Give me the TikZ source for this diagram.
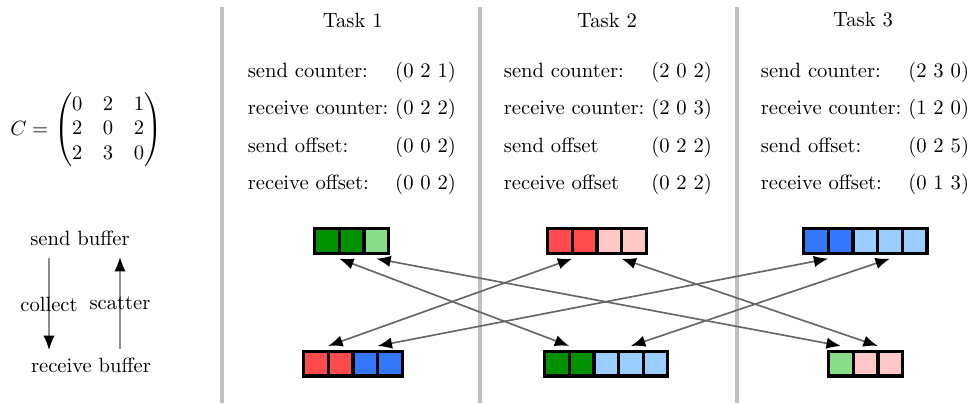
\documentclass[tikz,border=0pt]{standalone}
\usepackage{amsmath}
\usepackage{tikz}
\usetikzlibrary{arrows.meta,positioning}
\definecolor{dgreen}{RGB}{0,145,0}
\definecolor{lgreen}{RGB}{136,221,136}
\definecolor{bred}{RGB}{255,75,75}
\definecolor{pink}{RGB}{255,199,199}
\definecolor{bblue}{RGB}{51,119,255}
\definecolor{lblue}{RGB}{153,204,255}
\newcommand{\tabstretch}{\renewcommand{\arraystretch}{1.5}}

\begin{document}
\begin{tikzpicture}[thick]
   \useasboundingbox (0,0) rectangle (16.54,-6.866);
   % task columns
   \begin{scope}[draw=black!25, line width=1.6pt]
    \draw (3.782,-0.12) -- (3.782,-6.866);
    \draw (8.177,-0.12) -- (8.177,-6.866);
    \draw (12.555,-0.12) -- (12.555,-6.866);
   \end{scope}
   \node (h1) at (6.01,-0.34) {Task 1};
   \node (h2) at (10.34,-0.34) {Task 2};
   \node (h3) at (14.70,-0.34) {Task 3};
   \node (mat) at (1.47,-2.215) {$C = \begin{pmatrix}0&2&1\\2&0&2\\2&3&0\end{pmatrix}$};
   \begin{scope}[every node/.style={anchor=west,inner sep=0}]
    \node (tab1) at (4.208,-2.147) {\tabstretch\begin{tabular}{@{}l@{\ }l@{}}
      send counter: & (0 2 1)\\ receive counter: & (0 2 2)\\
      send offset: & (0 0 2)\\ receive offset: & (0 0 2)\end{tabular}};
    \node (tab2) at (8.569,-2.147) {\tabstretch\begin{tabular}{@{}l@{\ }l@{}}
      send counter: & (2 0 2)\\ receive counter: & (2 0 3)\\
      send offset & (0 2 2)\\ receive offset & (0 2 2)\end{tabular}};
    \node (tab3) at (12.947,-2.147) {\tabstretch\begin{tabular}{@{}l@{\ }l@{}}
      send counter: & (2 3 0)\\ receive counter: & (1 2 0)\\
      send offset: & (0 2 5)\\ receive offset: & (0 1 3)\end{tabular}};
   \end{scope}
   % buffers
   \begin{scope}[every node/.style={draw,ultra thick,minimum size=0.42cm,inner sep=0,outer sep=0}]
    \node[fill=dgreen] (t1s1) at (5.568,-4.106) {};
    \node[fill=dgreen,right=0pt of t1s1] (t1s2) {};
    \node[fill=lgreen,right=0pt of t1s2] (t1s3) {};
    \node[fill=bred] (t2s1) at (9.537,-4.106) {};
    \node[fill=bred,right=0pt of t2s1] (t2s2) {};
    \node[fill=pink,right=0pt of t2s2] (t2s3) {};
    \node[fill=pink,right=0pt of t2s3] (t2s4) {};
    \node[fill=bblue] (t3s1) at (13.899,-4.106) {};
    \node[fill=bblue,right=0pt of t3s1] (t3s2) {};
    \node[fill=lblue,right=0pt of t3s2] (t3s3) {};
    \node[fill=lblue,right=0pt of t3s3] (t3s4) {};
    \node[fill=lblue,right=0pt of t3s4] (t3s5) {};
    \node[fill=bred] (t1r1) at (5.381,-6.193) {};
    \node[fill=bred,right=0pt of t1r1] (t1r2) {};
    \node[fill=bblue,right=0pt of t1r2] (t1r3) {};
    \node[fill=bblue,right=0pt of t1r3] (t1r4) {};
    \node[fill=dgreen] (t2r1) at (9.486,-6.193) {};
    \node[fill=dgreen,right=0pt of t2r1] (t2r2) {};
    \node[fill=lblue,right=0pt of t2r2] (t2r3) {};
    \node[fill=lblue,right=0pt of t2r3] (t2r4) {};
    \node[fill=lblue,right=0pt of t2r4] (t2r5) {};
    \node[fill=lgreen] (t3r1) at (14.324,-6.193) {};
    \node[fill=pink,right=0pt of t3r1] (t3r2) {};
    \node[fill=pink,right=0pt of t3r2] (t3r3) {};
   \end{scope}
   \begin{scope}[every edge/.style={draw=black!60,thick,{Latex[color=black,length=7pt,width=5.5pt]}-{Latex[color=black,length=7pt,width=5.5pt]}}]
    \draw ([yshift=-0.09cm]t1s1.south east) edge ([yshift=0.09cm]t2r1.north east);
    \draw ([yshift=-0.09cm]t1s3.south) edge ([yshift=0.09cm]t3r1.north);
    \draw ([yshift=-0.09cm]t2s1.south east) edge ([yshift=0.09cm]t1r1.north east);
    \draw ([yshift=-0.09cm]t2s3.south east) edge ([yshift=0.09cm]t3r2.north east);
    \draw ([yshift=-0.09cm]t3s1.south east) edge ([yshift=0.09cm]t1r3.north east);
    \draw ([yshift=-0.09cm]t3s4.south) edge ([yshift=0.09cm]t2r4.north);
   \end{scope}
   % legend
   \node (sb) at (1.363,-4.055) {send buffer};
   \node (rb) at (1.55,-6.218) {receive buffer};
   \coordinate (c1) at (0.835,-4.395);
   \coordinate (c2) at (0.835,-5.963);
   \coordinate (s1) at (2.044,-5.946);
   \coordinate (s2) at (2.044,-4.378);
   \begin{scope}[every edge/.style={draw=black!45,thick,-{Latex[color=black,length=7pt,width=5.5pt]}}]
    \draw (c1) edge node (col) {collect} (c2);
    \draw (s1) edge node (sca) {scatter} (s2);
   \end{scope}
\end{tikzpicture}
\end{document}
